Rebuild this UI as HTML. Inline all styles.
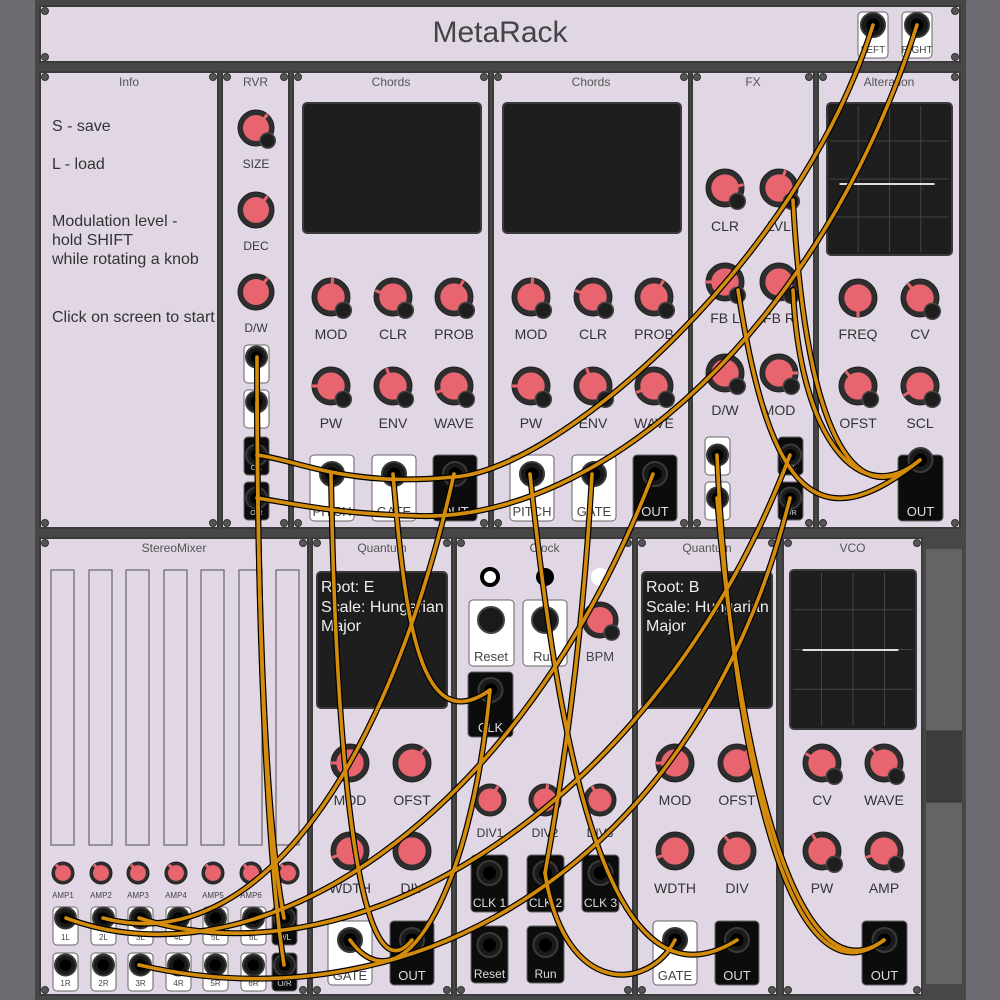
<!DOCTYPE html>
<html><head><meta charset="utf-8"><style>
html,body{margin:0;padding:0;width:1000px;height:1000px;overflow:hidden;background:#6e6a72}
svg{display:block}
text{font-family:"Liberation Sans","DejaVu Sans",sans-serif}
</style></head><body>
<svg id="s" width="1000" height="1000" viewBox="0 0 1000 1000" xmlns="http://www.w3.org/2000/svg">
<rect x="0" y="0" width="1000" height="1000" fill="#6e6a72"/>
<rect x="35" y="0" width="931" height="1000" fill="#474747"/>
<rect x="926" y="549" width="36" height="181" fill="#646464"/>
<rect x="926" y="731" width="36" height="71" fill="#3c3c3c"/>
<rect x="926" y="803" width="36" height="181" fill="#646464"/>
<g id="panels"></g>
<g id="cables"></g>
</svg>
<script>
var NS="http://www.w3.org/2000/svg";
var P=document.getElementById('panels'),C=document.getElementById('cables');
function el(t,a,par,txt){var e=document.createElementNS(NS,t);for(var k in a)e.setAttribute(k,a[k]);if(txt!==undefined)e.textContent=txt;(par||P).appendChild(e);return e;}
function txt(x,y,s,sz,col,anc){el('text',{x:x,y:y,'font-size':sz,fill:col||'#3a3a3a','text-anchor':anc||'middle'},P,s);}
function screw(x,y){el('circle',{cx:x,cy:y,r:3.5,fill:'#555',stroke:'#333','stroke-width':1});}
function panel(x,y,w,h,title){
 el('rect',{x:x,y:y,width:w,height:h,fill:'#e0d6e4',stroke:'#3a3a3a','stroke-width':2});
 screw(x+5,y+5);screw(x+w-5,y+5);screw(x+5,y+h-5);screw(x+w-5,y+h-5);
 if(title)txt(x+w/2,y+14,title,12,'#555');
}
function knob(cx,cy,r,ang,mod){
 el('circle',{cx:cx,cy:cy,r:r,fill:'#2e2e2e',stroke:'#222','stroke-width':1});
 el('circle',{cx:cx,cy:cy,r:r*0.72,fill:'#e8656f'});
 var a=ang*Math.PI/180;
 el('line',{x1:cx+Math.cos(a)*r*0.5,y1:cy+Math.sin(a)*r*0.5,x2:cx+Math.cos(a)*r,y2:cy+Math.sin(a)*r,stroke:'#e8656f','stroke-width':3});
 if(mod){el('circle',{cx:cx+r*0.65,cy:cy+r*0.7,r:r*0.42,fill:'#1e1e1e',stroke:'#444','stroke-width':1.5});}
}
function jack(cx,cy,r){r=r||11;
 el('circle',{cx:cx,cy:cy,r:r,fill:'#1a1a1a',stroke:'#3a3a3a','stroke-width':2});
 el('circle',{cx:cx,cy:cy,r:r*0.55,fill:'#000'});
}
function jbox(x,y,w,h,black,label,jy,lsz){
 el('rect',{x:x,y:y,width:w,height:h,rx:4,fill:black?'#0c0c0c':'#ffffff',stroke:'#666','stroke-width':1});
 jack(x+w/2,jy,Math.min(12,w/2-2));
 if(label)txt(x+w/2,y+h-5,label,lsz||13,black?'#ddd':'#444');
}
function screen(x,y,w,h,grid,line){
 el('rect',{x:x,y:y,width:w,height:h,rx:4,fill:'#1e1e1e',stroke:'#3a3a3a','stroke-width':2});
 if(grid){for(var i=1;i<4;i++){el('line',{x1:x+w*i/4,y1:y+3,x2:x+w*i/4,y2:y+h-3,stroke:'#444','stroke-width':1});}
  for(var j=1;j<4;j++){el('line',{x1:x+3,y1:y+h*j/4,x2:x+w-3,y2:y+h*j/4,stroke:'#444','stroke-width':1});}
  el('line',{x1:x+w*0.1,y1:line,x2:x+w*0.86,y2:line,stroke:'#ddd','stroke-width':2});}
}
// top
panel(40,6,920,56,null);
txt(500,42,'MetaRack',30,'#444');
jbox(858,12,30,46,false,'LEFT',25,10);
jbox(902,12,30,46,false,'RIGHT',25,10);
// Row1
panel(40,72,178,456,'Info');
var it=[['S - save',131],['L - load',169],['Modulation level -',226],['hold SHIFT',245],['while rotating a knob',264],['Click on screen to start',322]];
it.forEach(function(a){txt(52,a[1],a[0],16,'#333','start');});
panel(222,72,67,456,'RVR');
knob(256,128,18,-50,true);txt(256,168,'SIZE',12);
knob(256,210,18,-50,false);txt(256,250,'DEC',12);
knob(256,292,18,-50,false);txt(256,332,'D/W',12);
jbox(244,345,25,38,false,'',357);jbox(244,390,25,38,false,'',402);
jbox(244,437,25,38,true,'O/L',455,7);jbox(244,482,25,38,true,'O/R',498,7);
function chords(x){
 panel(x,72,196,456,'Chords');
 screen(x+10,103,178,130);
 var ks=[[38,297,-85],[100,297,200],[161,297,-60],[38,386,180],[100,386,-110],[161,386,160]];
 var lb=['MOD','CLR','PROB','PW','ENV','WAVE'];
 ks.forEach(function(k,i){knob(x+k[0],k[1],19,k[2],true);txt(x+k[0],i<3?339:428,lb[i],14,'#333');});
 jbox(x+17,455,44,66,false,'PITCH',474);jbox(x+79,455,44,66,false,'GATE',474);jbox(x+140,455,44,66,true,'OUT',474);
}
chords(293);chords(493);
panel(692,72,122,456,'FX');
[[725,188,-10,'CLR'],[779,188,-70,'LVL'],[725,282,180,'FB L'],[779,282,90,'FB R'],[725,373,40,'D/W'],[779,373,0,'MOD']].forEach(function(k,i){knob(k[0],k[1],19,k[2],true);txt(k[0],[231,231,323,323,415,415][i],k[3],14,'#333');});
jbox(705,437,25,38,false,'',455);jbox(705,482,25,38,false,'',498);
jbox(778,437,25,38,true,'O/L',455,7);jbox(778,482,25,38,true,'O/R',498,7);
panel(818,72,142,456,'Alteration');
screen(827,103,125,152,true,184);
[[858,298,90,'FREQ'],[920,298,-130,'CV'],[858,386,-130,'OFST'],[920,386,150,'SCL']].forEach(function(k,i){knob(k[0],k[1],19,k[2],i!=0);txt(k[0],i<2?339:428,k[3],14,'#333');});
jbox(898,455,45,66,true,'OUT',460);
// Row2
panel(40,538,268,457,'StereoMixer');
var fx=[51,89,126,164,201,239,276];
fx.forEach(function(x,i){el('rect',{x:x,y:570,width:23,height:275,fill:'none',stroke:'#666','stroke-width':1.2});
 knob(x+12,873,11,-130,false);
 if(i<6){txt(x+12,898,'AMP'+(i+1),8,'#444');
 jbox(x+2,907,25,38,false,(i+1)+'L',918,8);jbox(x+2,953,25,38,false,(i+1)+'R',965,8);}
});
jbox(272,907,25,38,true,'O/L',918,8);jbox(272,953,25,38,true,'O/R',965,8);
function quant(x,root){
 panel(x,538,140,457,'Quantum');
 screen(x+5,572,130,136);
 txt(x+9,592,'Root: '+root,16,'#eee','start');txt(x+9,612,'Scale: Hungarian',16,'#eee','start');txt(x+9,631,'Major',16,'#eee','start');
 [[38,763,180,'MOD'],[100,763,-50,'OFST'],[38,851,160,'WDTH'],[100,851,-130,'DIV']].forEach(function(k,i){knob(x+k[0],k[1],19,k[2],false);txt(x+k[0],i<2?805:893,k[3],14,'#333');});
 jbox(x+16,921,44,64,false,'GATE',940);jbox(x+78,921,44,64,true,'OUT',940);
}
quant(312,'E');
panel(456,538,177,457,'Clock');
el('circle',{cx:490,cy:577,r:8,fill:'#fff',stroke:'#000','stroke-width':4});
el('circle',{cx:545,cy:577,r:9,fill:'#000'});
el('circle',{cx:600,cy:577,r:9,fill:'#fff'});
el('rect',{x:469,y:600,width:45,height:66,rx:4,fill:'#fff',stroke:'#666'});el('circle',{cx:491,cy:620,r:13,fill:'#1a1a1a',stroke:'#444','stroke-width':2});txt(491,661,'Reset',13,'#444');
el('rect',{x:523,y:600,width:44,height:66,rx:4,fill:'#fff',stroke:'#666'});el('circle',{cx:545,cy:620,r:13,fill:'#1a1a1a',stroke:'#444','stroke-width':2});txt(545,661,'Run',13,'#444');
knob(600,620,18,200,true);txt(600,661,'BPM',13,'#444');
jbox(468,672,45,65,true,'CLK',690);
[[490,'DIV1',-60],[545,'DIV2',-80],[600,'DIV3',-120]].forEach(function(k){knob(k[0],800,16,k[2],false);txt(k[0],837,k[1],12,'#333');});
jbox(471,855,37,57,true,'CLK 1',873,12);jbox(527,855,37,57,true,'CLK 2',873,12);jbox(582,855,37,57,true,'CLK 3',873,12);
jbox(471,926,37,57,true,'Reset',945,12);jbox(527,926,37,57,true,'Run',945,12);
quant(637,'B');
panel(783,538,139,457,'VCO');
screen(790,570,126,159,true,650);
[[822,763,-150,'CV'],[884,763,-130,'WAVE'],[822,851,-120,'PW'],[884,851,160,'AMP']].forEach(function(k,i){knob(k[0],k[1],19,k[2],true);txt(k[0],i<2?805:893,k[3],14,'#333');});
jbox(862,921,45,64,true,'OUT',940);
// cables
var cab=[
'M873,25 C800,260 560,470 454,477 C420,480 380,482 331,472 C300,466 280,458 257,455',
'M917,25 C820,330 600,520 420,516 C340,514 300,505 257,498',
'M257,357 C257,600 265,820 284,918',
'M257,402 C258,650 268,860 284,965',
'M331,474 C335,720 355,1010 412,940',
'M393,474 C405,620 420,740 490,690',
'M454,474 C390,760 260,960 103,918',
'M653,474 C520,820 260,990 66,918',
'M790,455 C660,800 360,990 139,918',
'M790,498 C700,860 420,1030 139,965',
'M530,474 C560,760 610,1020 737,940',
'M592,474 C582,650 562,780 545,873',
'M545,873 C565,1000 650,990 675,940',
'M490,690 C470,900 400,1010 350,940',
'M738,290 C770,500 820,540 920,460',
'M793,200 C805,420 850,520 920,460',
'M793,290 C800,440 860,510 920,460',
'M717,455 C728,700 780,1020 884,940',
'M717,498 C735,720 790,1010 884,940'
];
cab.forEach(function(d){el('path',{d:d,fill:'none',stroke:'#000','stroke-width':6,'stroke-linecap':'round'},C);});
cab.forEach(function(d){el('path',{d:d,fill:'none',stroke:'#d38c0c','stroke-width':3.6,'stroke-linecap':'round'},C);});
</script>
</body></html>
